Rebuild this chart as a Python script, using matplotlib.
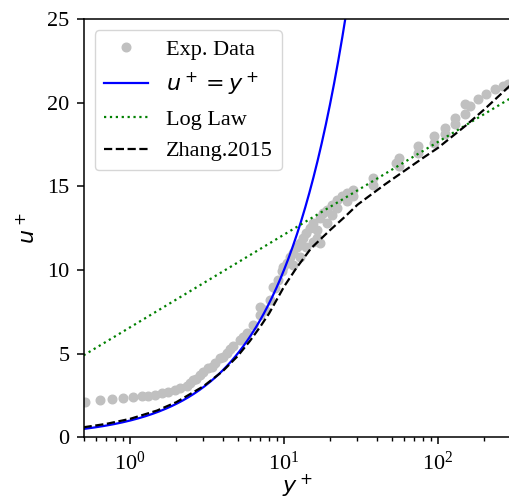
import numpy as np
import matplotlib
matplotlib.use('Agg')
import matplotlib.pyplot as plt

plt.rcParams['font.family'] = 'serif'
plt.rcParams['font.serif'] = ['Liberation Serif', 'DejaVu Serif']
plt.rcParams['mathtext.fontset'] = 'dejavusans'
plt.rcParams['font.size'] = 16

exp_yplus = [0.51, 0.64, 0.77, 0.905, 1.05, 1.19, 1.31, 1.45, 1.61, 1.77, 1.96, 2.11,
             2.33, 2.45, 2.58, 2.7, 2.85, 3.0, 3.23, 3.4, 3.56, 3.84, 4.0, 4.24, 4.45,
             4.69, 5.18, 5.45, 5.72, 6.32, 6.98, 7.0, 7.53, 8.11, 8.52, 8.74, 9.19, 9.66,
             9.9, 10.4, 11.0, 11.5, 12.1, 12.7, 13.3, 14.0, 14.7, 15.5, 16.3, 17.1, 17.1,
             18.0, 18.9, 20.5, 22.0, 23.8, 25.5, 28.2,
             11.5, 12.7, 14.0, 15.5, 16.3, 18.9, 20.5, 22.0, 25.5, 28.2,
             38.0, 38.0, 53.7, 55.4, 55.4, 74.4, 74.4, 93.5, 93.5, 111, 111, 129, 129,
             150, 150, 161, 183, 206, 234, 264, 286]
exp_uplus = [2.13, 2.23, 2.29, 2.33, 2.39, 2.45, 2.49, 2.53, 2.63, 2.73, 2.83, 2.93,
             3.07, 3.25, 3.43, 3.5, 3.73, 3.9, 4.13, 4.2, 4.43, 4.73, 4.8, 5.03, 5.25,
             5.43, 5.83, 6.0, 6.23, 6.72, 7.32, 7.8, 7.62, 8.22, 9.0, 8.92, 9.42, 9.92,
             10.2, 10.4, 10.8, 11.0, 11.4, 11.6, 11.9, 12.2, 12.5, 12.8, 12.4, 11.6, 13.1,
             13.4, 13.6, 13.9, 14.2, 14.4, 14.6, 14.8,
             10.3, 10.8, 11.4, 11.7, 11.9, 12.8, 13.3, 13.7, 14.1, 14.4,
             15.1, 15.5, 16.4, 16.2, 16.7, 17.0, 17.4, 17.6, 18.0, 18.1, 18.5, 18.7, 19.1,
             19.3, 19.9, 19.8, 20.2, 20.5, 20.8, 21.0, 21.1]

# log law line ends
log_yplus = [0.5, 300]
log_uplus = [4.9, 20.3]

# Zhang.2015 wall function
zhang_yplus = [0.5, 0.7, 1, 1.5, 2, 3, 4, 5, 6, 7, 8, 10, 12, 15, 20, 25, 30, 45,
               60, 80, 100, 150, 200, 300]
zhang_uplus = [0.6, 0.8, 1.1, 1.6, 2.1, 3.05, 3.95, 4.85, 5.75, 6.6, 7.4, 9.0, 10.1,
               11.3, 12.4, 13.2, 13.9, 15.1, 15.9, 16.7, 17.3, 18.6, 19.6, 21.1]

# viscous sublayer u+ = y+
visc_yplus = np.geomspace(0.5, 30, 200)

fig = plt.figure(figsize=(5.09, 5.04), dpi=100)
ax = fig.add_axes([83.6/509, 1-437.3/504, (511.5-83.6)/509, (437.3-19)/504])

ax.plot(exp_yplus, exp_uplus, 'o', color='silver', markersize=6.2, label='Exp. Data')
ax.plot(visc_yplus, visc_yplus, '-', color='blue', lw=1.6, label=r'$u^+=y^+$')
ax.plot(log_yplus, log_uplus, ':', color='green', lw=1.6, label='Log Law')
ax.plot(zhang_yplus, zhang_uplus, '--', color='black', lw=1.6, label='Zhang.2015')

ax.set_xscale('log')
ax.set_xlim(0.5, 300)
ax.set_ylim(0, 25)
ax.set_xlabel(r'$y^+$', labelpad=-1)
ax.set_ylabel(r'$u^+$', labelpad=5)
ax.tick_params(which='major', length=5, width=1.1, pad=5)
ax.tick_params(which='minor', length=3, width=1.0)
for s in ax.spines.values():
    s.set_linewidth(1.1)

ax.legend(loc='upper left')

fig.savefig('out.png', dpi=100)
